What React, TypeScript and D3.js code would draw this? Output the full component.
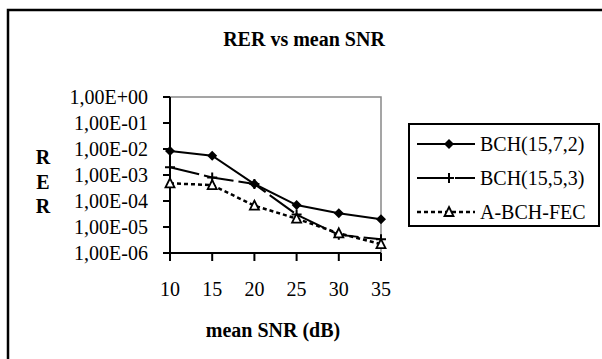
import { useMemo } from "react";
import * as d3 from "d3";

// mean SNR in dB, one category per point
const snr = [10, 15, 20, 25, 30, 35];

// RER
const bch1572 = [8.3e-3, 5.5e-3, 4.5e-4, 7e-5, 3.4e-5, 2e-5];
const bch1553 = [2e-3, 8e-4, 4.5e-4, 3e-5, 5e-6, 3.4e-6];
const abchfec = [4.8e-4, 4.1e-4, 6.6e-5, 2.1e-5, 5.7e-6, 2.2e-6];

const yTicks = [1, 1e-1, 1e-2, 1e-3, 1e-4, 1e-5, 1e-6];
const seriesNames = ["BCH(15,7,2)", "BCH(15,5,3)", "A-BCH-FEC"];

const FONT = '"Liberation Serif", "DejaVu Serif", serif';

// Excel-like "1,00E-03" label
const fmtSci = (v: number) => {
  const e = Math.round(Math.log10(v));
  const sign = e < 0 ? "-" : "+";
  return `1,00E${sign}${String(Math.abs(e)).padStart(2, "0")}`;
};

function Marker({ kind, x, y }: { kind: string; x: number; y: number }) {
  if (kind === "diamond") {
    return <path d={`M${x},${y - 5}L${x + 5},${y}L${x},${y + 5}L${x - 5},${y}Z`} fill="#000" />;
  }
  if (kind === "plus") {
    return (
      <path d={`M${x - 5},${y}H${x + 5}M${x},${y - 5}V${y + 5}`} stroke="#000" strokeWidth={2} fill="none" />
    );
  }
  return (
    <path
      d={`M${x},${y - 5}L${x + 4.5},${y + 4}L${x - 4.5},${y + 4}Z`}
      fill="#fff"
      stroke="#000"
      strokeWidth={1.8}
    />
  );
}

export default function App() {
  const left = 170, right = 381, top = 97, bottom = 253;

  const x = useMemo(() => d3.scalePoint<number>().domain(snr).range([left, right]), []);
  const y = useMemo(() => d3.scaleLog().domain([1e-6, 1]).range([bottom, top]), []);

  const line = d3
    .line<number>()
    .x((_, i) => x(snr[i]) as number)
    .y((d) => y(d));

  const series = [
    { name: seriesNames[0], values: bch1572, marker: "diamond", dash: undefined, width: 2 },
    { name: seriesNames[1], values: bch1553, marker: "plus", dash: "30,5", width: 2 },
    { name: seriesNames[2], values: abchfec, marker: "triangle", dash: "4,3", width: 2.5 },
  ];

  return (
    <svg
      width={602}
      height={359}
      style={{ position: "absolute", left: 0, top: 0, background: "#fff", fontFamily: FONT }}
    >
      {/* outer chart border, runs off the right and bottom edge */}
      <rect x={8} y={10} width={620} height={380} fill="#fff" stroke="#000" strokeWidth={2.5} />

      <text x={304} y={46} textAnchor="middle" fontSize={20} fontWeight="bold">
        RER vs mean SNR
      </text>

      {/* plot frame: grey top/right, black axes */}
      <path d={`M${left},${top}H${right}V${bottom}`} fill="none" stroke="#888" strokeWidth={1.5} />

      {/* y axis */}
      <line x1={left} x2={left} y1={top} y2={bottom} stroke="#000" strokeWidth={2} />
      {yTicks.map((t) => (
        <g key={t}>
          <line x1={left - 7} x2={left} y1={y(t)} y2={y(t)} stroke="#000" strokeWidth={2} />
          <text x={148} y={y(t)} dy="0.35em" textAnchor="end" fontSize={20}>
            {fmtSci(t)}
          </text>
        </g>
      ))}
      {["R", "E", "R"].map((c, i) => (
        <text key={i} x={43} y={164 + i * 24.5} textAnchor="middle" fontSize={20} fontWeight="bold">
          {c}
        </text>
      ))}

      {/* x axis */}
      <line x1={left} x2={right} y1={bottom} y2={bottom} stroke="#000" strokeWidth={2} />
      {snr.map((s) => (
        <g key={s}>
          <line x1={x(s)} x2={x(s)} y1={bottom} y2={bottom + 8} stroke="#000" strokeWidth={2} />
          <text x={x(s)} y={296} textAnchor="middle" fontSize={20}>
            {s}
          </text>
        </g>
      ))}
      <text x={273} y={337} textAnchor="middle" fontSize={20} fontWeight="bold">
        mean SNR (dB)
      </text>

      {/* series */}
      {series.map((s) => (
        <g key={s.name}>
          <path d={line(s.values) || ""} fill="none" stroke="#000" strokeWidth={s.width} strokeDasharray={s.dash} />
          {s.values.map((v, i) => (
            <Marker key={i} kind={s.marker} x={x(snr[i]) as number} y={y(v)} />
          ))}
        </g>
      ))}

      {/* legend */}
      <rect x={409} y={124} width={190} height={102} fill="#fff" stroke="#000" strokeWidth={2} />
      {series.map((s, i) => {
        const ly = 144 + i * 34;
        return (
          <g key={s.name}>
            <line x1={417} x2={475} y1={ly} y2={ly} stroke="#000" strokeWidth={s.width} strokeDasharray={s.dash ? (i === 1 ? "33,5" : s.dash) : undefined} />
            <Marker kind={s.marker} x={449} y={ly} />
            <text x={480} y={ly} dy="0.35em" fontSize={20}>
              {s.name}
            </text>
          </g>
        );
      })}
    </svg>
  );
}
